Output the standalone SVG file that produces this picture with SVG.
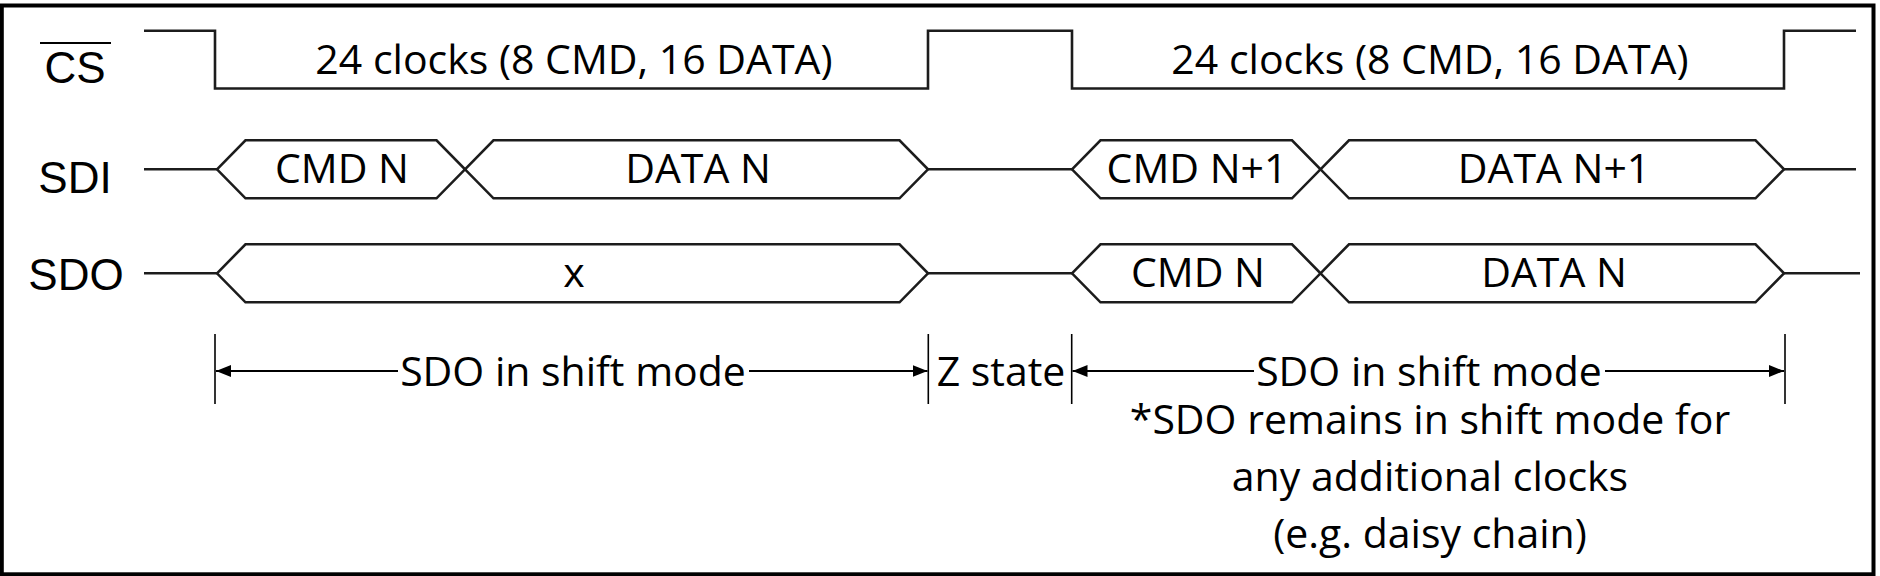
<svg xmlns="http://www.w3.org/2000/svg" width="1880" height="576" viewBox="0 0 1880 576">
<defs>
<style>
.lbl{font-family:"Liberation Sans",Arial,sans-serif;font-size:44px;fill:#000;text-anchor:middle}
.t{font-family:"Open Sans","Noto Sans",sans-serif;font-size:41px;fill:#000;text-anchor:middle}
.w{fill:none;stroke:#1c1c1c;stroke-width:2.6;stroke-linejoin:miter}
.dim{fill:none;stroke:#000;stroke-width:1.8}
.tick{stroke:#000;stroke-width:1.6}
</style>
<marker id="arr" markerUnits="userSpaceOnUse" markerWidth="16" markerHeight="12" refX="15" refY="6" orient="auto">
<path d="M0,0 L15,6 L0,12 z" fill="#000"/>
</marker>
</defs>
<rect x="0" y="0" width="1880" height="576" fill="#fff"/>
<rect x="1.8" y="5.5" width="1871.7" height="568.8" fill="none" stroke="#000" stroke-width="4"/>

<g id="label-cs">
<text class="lbl" x="75" y="83">CS</text>
<line x1="40" y1="43" x2="111" y2="43" stroke="#000" stroke-width="2"/>
</g>
<g id="label-sdi"><text class="lbl" x="75" y="193">SDI</text></g>
<g id="label-sdo"><text class="lbl" x="76" y="290">SDO</text></g>

<g id="cs-wave">
<path class="w" d="M144,30.7 H215 V88.5 H928 V30.7 H1072 V88.5 H1784 V30.7 H1856"/>
<text class="t" x="574" y="74">24 clocks (8 CMD, 16 DATA)</text>
<text class="t" x="1430" y="74">24 clocks (8 CMD, 16 DATA)</text>
</g>

<g id="sdi-wave">
<path class="w" d="M144,169.3 H217 M928,169.3 H1072 M1784,169.3 H1856"/>
</g>
<g id="sdi-cmd-n">
<path class="w" d="M217,169.3 L245.5,140.3 H436.5 L465,169.3 L436.5,198.3 H245.5 Z"/>
<text class="t" x="342" y="182.5">CMD N</text>
</g>
<g id="sdi-data-n">
<path class="w" d="M465,169.3 L493.5,140.3 H899.5 L928,169.3 L899.5,198.3 H493.5 Z"/>
<text class="t" x="698" y="182.5">DATA N</text>
</g>
<g id="sdi-cmd-n1">
<path class="w" d="M1072,169.3 L1100.5,140.3 H1292 L1320.5,169.3 L1292,198.3 H1100.5 Z"/>
<text class="t" x="1197" y="182.5">CMD N+1</text>
</g>
<g id="sdi-data-n1">
<path class="w" d="M1320.5,169.3 L1349,140.3 H1755.5 L1784,169.3 L1755.5,198.3 H1349 Z"/>
<text class="t" x="1554" y="182.5">DATA N+1</text>
</g>

<g id="sdo-wave">
<path class="w" d="M144,273.3 H217 M928,273.3 H1072 M1784,273.3 H1860"/>
</g>
<g id="sdo-x">
<path class="w" d="M217,273.3 L245.5,244.3 H899.5 L928,273.3 L899.5,302.3 H245.5 Z"/>
<text class="t" x="574" y="286.5">x</text>
</g>
<g id="sdo-cmd-n">
<path class="w" d="M1072,273.3 L1100.5,244.3 H1292 L1320.5,273.3 L1292,302.3 H1100.5 Z"/>
<text class="t" x="1198" y="286.5">CMD N</text>
</g>
<g id="sdo-data-n">
<path class="w" d="M1320.5,273.3 L1349,244.3 H1755.5 L1784,273.3 L1755.5,302.3 H1349 Z"/>
<text class="t" x="1554" y="286.5">DATA N</text>
</g>

<g id="ticks">
<line class="tick" x1="215" y1="334" x2="215" y2="404"/>
<line class="tick" x1="928.3" y1="334" x2="928.3" y2="404"/>
<line class="tick" x1="1071.7" y1="334" x2="1071.7" y2="404"/>
<line class="tick" x1="1785" y1="334" x2="1785" y2="404"/>
</g>

<g id="connectors">
<line class="dim" x1="398" y1="371" x2="216" y2="371" marker-end="url(#arr)"/>
<line class="dim" x1="749" y1="371" x2="927.5" y2="371" marker-end="url(#arr)"/>
<line class="dim" x1="1254" y1="371" x2="1072.5" y2="371" marker-end="url(#arr)"/>
<line class="dim" x1="1605" y1="371" x2="1784" y2="371" marker-end="url(#arr)"/>
</g>

<g id="dim-labels">
<text class="t" x="573" y="386">SDO in shift mode</text>
<text class="t" x="1001" y="386">Z state</text>
<text class="t" x="1429" y="386">SDO in shift mode</text>
</g>

<g id="note">
<text class="t" x="1430" y="434">*SDO remains in shift mode for</text>
<text class="t" x="1430" y="491">any additional clocks</text>
<text class="t" x="1430" y="548">(e.g. daisy chain)</text>
</g>
</svg>
